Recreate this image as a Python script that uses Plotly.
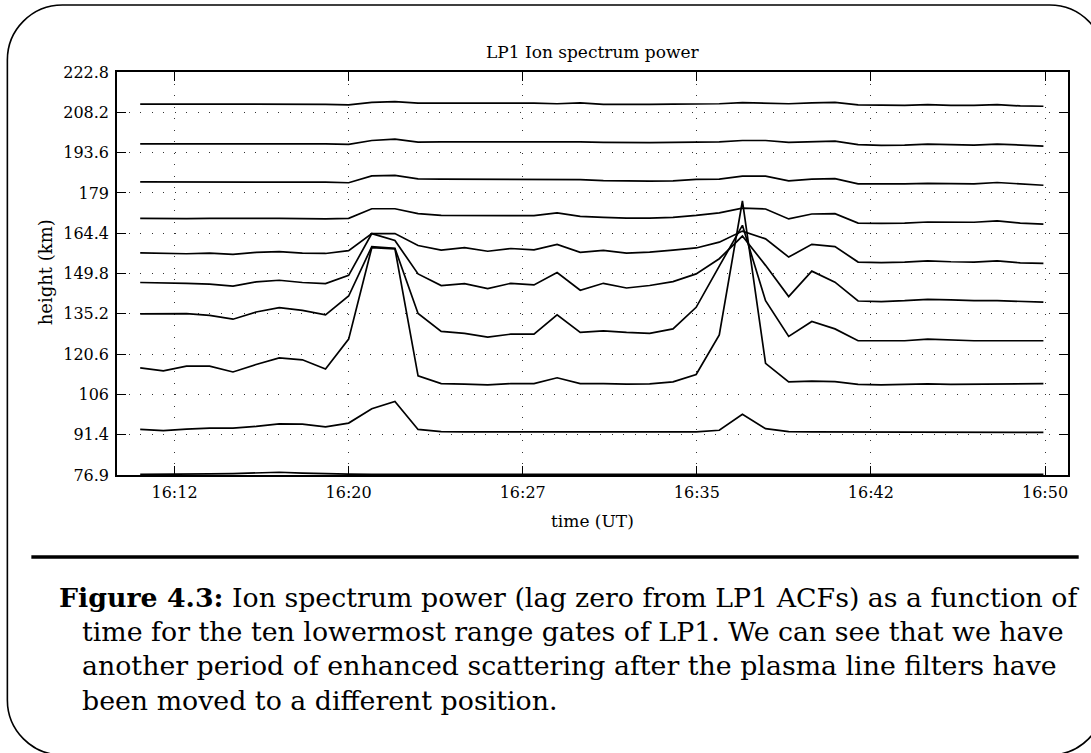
import plotly.graph_objects as go

# ---------------- data ----------------
# time of each sample, minutes after 16:00 UT
time_min = [10.50, 11.51, 12.52, 13.53, 14.55, 15.56, 16.57, 17.58, 18.59, 19.60,
            20.61, 21.62, 22.63, 23.64, 24.66, 25.67, 26.68, 27.69, 28.70, 29.71,
            30.72, 31.73, 32.74, 33.76, 34.77, 35.78, 36.79, 37.80, 38.81, 39.82,
            40.83, 41.84, 42.85, 43.87, 44.88, 45.89, 46.90, 47.91, 48.92, 49.93]

gate10 = [211.2, 211.2, 211.2, 211.2, 211.2, 211.3, 211.3, 211.2, 211.1, 210.9,
          211.8, 212.1, 211.5, 211.5, 211.5, 211.5, 211.6, 211.5, 211.3, 211.6,
          211.1, 211.0, 211.1, 211.2, 211.2, 211.3, 211.7, 211.6, 211.3, 211.6,
          211.8, 210.9, 210.7, 210.7, 211.0, 210.7, 210.7, 211.0, 210.5, 210.4]
gate9 = [196.8, 196.8, 196.8, 196.8, 196.8, 196.8, 196.9, 196.8, 196.8, 196.6,
         198.0, 198.5, 197.4, 197.5, 197.5, 197.6, 197.5, 197.5, 197.4, 197.5,
         197.3, 197.2, 197.2, 197.3, 197.5, 197.5, 198.0, 198.0, 197.3, 197.5,
         197.8, 196.5, 196.2, 196.3, 196.7, 196.5, 196.3, 196.7, 196.3, 196.0]
gate8 = [183.0, 183.0, 183.0, 182.9, 182.9, 182.9, 183.0, 182.9, 182.9, 182.7,
         185.2, 185.4, 184.1, 184.0, 184.0, 183.9, 184.0, 184.0, 184.0, 183.8,
         183.5, 183.3, 183.3, 183.4, 183.9, 184.0, 185.1, 185.1, 183.4, 184.0,
         184.2, 182.3, 182.2, 182.3, 182.5, 182.3, 182.3, 182.8, 182.2, 181.8]
gate7 = [169.8, 169.7, 169.7, 169.8, 169.7, 169.8, 169.8, 169.6, 169.6, 169.8,
         173.3, 173.3, 171.5, 170.9, 170.9, 170.9, 170.9, 170.8, 171.8, 170.5,
         170.2, 169.9, 169.9, 170.2, 170.9, 171.8, 173.5, 173.2, 169.6, 171.4,
         171.5, 168.1, 168.0, 168.1, 168.5, 168.4, 168.4, 168.9, 168.1, 167.7]
gate6 = [157.3, 157.1, 157.0, 157.2, 156.8, 157.5, 157.8, 157.2, 157.1, 158.1,
         164.3, 164.3, 160.0, 158.3, 159.2, 157.9, 158.9, 158.4, 160.4, 157.5,
         158.2, 157.2, 157.6, 158.3, 159.1, 161.2, 165.2, 162.4, 155.8, 160.4,
         159.6, 154.0, 153.8, 154.0, 154.4, 154.1, 154.0, 154.4, 153.7, 153.5]
gate5 = [146.6, 146.5, 146.3, 146.0, 145.3, 146.8, 147.4, 146.6, 146.2, 149.2,
         164.3, 161.8, 149.7, 145.5, 146.2, 144.4, 146.3, 145.7, 150.2, 143.8,
         146.3, 144.6, 145.5, 146.9, 149.7, 155.2, 163.4, 152.8, 141.5, 150.7,
         146.7, 139.9, 139.7, 140.0, 140.5, 140.3, 140.0, 140.0, 139.8, 139.5]
gate4 = [135.2, 135.2, 135.3, 134.7, 133.3, 135.9, 137.5, 136.5, 134.9, 141.7,
         159.6, 159.0, 135.4, 128.9, 128.2, 126.8, 127.9, 127.9, 134.9, 128.5,
         129.1, 128.5, 128.2, 129.8, 137.6, 152.5, 167.3, 140.0, 127.1, 132.5,
         129.8, 125.5, 125.5, 125.5, 126.1, 125.7, 125.5, 125.5, 125.5, 125.5]
gate3 = [115.7, 114.6, 116.3, 116.3, 114.2, 116.9, 119.3, 118.6, 115.3, 126.1,
         159.2, 158.8, 112.8, 110.0, 109.8, 109.5, 110.0, 110.0, 112.1, 110.0,
         110.0, 109.8, 109.9, 110.6, 113.3, 127.6, 176.1, 117.3, 110.6, 110.9,
         110.7, 109.7, 109.5, 109.7, 109.9, 109.7, 109.8, 110.0, 110.0, 110.0]
gate2 = [93.4, 93.0, 93.5, 93.9, 93.9, 94.5, 95.4, 95.3, 94.3, 95.7,
         100.9, 103.5, 93.4, 92.6, 92.5, 92.5, 92.5, 92.5, 92.5, 92.5,
         92.5, 92.5, 92.4, 92.4, 92.5, 93.1, 98.9, 93.7, 92.6, 92.5,
         92.5, 92.3, 92.3, 92.3, 92.3, 92.3, 92.3, 92.3, 92.3, 92.3]
gate1 = [77.1, 77.1, 77.2, 77.3, 77.4, 77.6, 77.9, 77.6, 77.3, 77.2,
         77.1, 77.1, 77.1, 77.1, 77.1, 77.1, 77.1, 77.1, 77.1, 77.1,
         77.1, 77.1, 77.1, 77.1, 77.2, 77.2, 77.3, 77.2, 77.1, 77.1,
         77.1, 77.2, 77.1, 77.1, 77.1, 77.1, 77.1, 77.1, 77.1, 77.1]

gates = [gate1, gate2, gate3, gate4, gate5, gate6, gate7, gate8, gate9, gate10]

x_tickvals = [12.0, 19.6, 27.2, 34.8, 42.4, 50.0]
x_ticktext = ["16:12", "16:20", "16:27", "16:35", "16:42", "16:50"]
y_tickvals = [76.9, 91.49, 106.08, 120.67, 135.26, 149.85, 164.44, 179.03, 193.62, 208.21, 222.8]
y_ticktext = ["76.9", "91.4", "106", "120.6", "135.2", "149.8", "164.4", "179", "193.6", "208.2", "222.8"]

title_text = "LP1 Ion spectrum power"
xlabel = "time (UT)"
ylabel = "height (km)"
caption_lines = [
    "<b>Figure 4.3:</b> Ion spectrum power (lag zero from LP1 ACFs) as a function of",
    "time for the ten lowermost range gates of LP1. We can see that we have",
    "another period of enhanced scattering after the plasma line filters have",
    "been moved to a different position.",
]

# ---------------- layout geometry (pixels) ----------------
W, H = 1091, 753
PL, PR, PT, PB = 116.7, 1068.3, 72.0, 475.0
FONT = "DejaVu Serif"


def px(xp):
    return (xp - PL) / (PR - PL)


def py(yp):
    return (PB - yp) / (PB - PT)


fig = go.Figure()
for g in gates:
    fig.add_trace(go.Scatter(x=time_min, y=g, mode="lines",
                             line=dict(color="black", width=1.7),
                             showlegend=False, hoverinfo="skip"))

axis_common = dict(
    showline=True, linecolor="black", linewidth=1.5, mirror="ticks",
    ticks="inside", ticklen=9, tickwidth=1.2, tickcolor="black",
    showgrid=True, gridcolor="#333333", gridwidth=1, griddash="1px,10.5px",
    zeroline=False, tickfont=dict(family=FONT, size=16, color="black"),
)

fig.update_layout(
    width=W, height=H,
    margin=dict(l=PL, r=W - PR, t=PT, b=H - PB, autoexpand=False),
    paper_bgcolor="white", plot_bgcolor="white",
    xaxis=dict(range=[9.487, 51.0035], tickmode="array", tickvals=x_tickvals,
               ticktext=x_ticktext, ticklabelstandoff=2, **axis_common),
    yaxis=dict(range=[76.9, 222.8], tickmode="array", tickvals=y_tickvals,
               ticktext=y_ticktext, ticklabelstandoff=3, **axis_common),
)

annotations = [
    dict(text=title_text, x=0.5, y=py(52), xref="paper", yref="paper",
         xanchor="center", yanchor="middle", showarrow=False,
         font=dict(family=FONT, size=17, color="black")),
    dict(text=xlabel, x=px(592.5), y=py(521), xref="paper", yref="paper",
         xanchor="center", yanchor="middle", showarrow=False,
         font=dict(family=FONT, size=17, color="black")),
    dict(text=ylabel, x=px(45), y=py(272), xref="paper", yref="paper",
         xanchor="center", yanchor="middle", showarrow=False, textangle=-90,
         font=dict(family=FONT, size=18, color="black")),
]
cap_y = [597, 631, 665, 700]
cap_x = [57, 80, 80, 80]
for t, xx, yy in zip(caption_lines, cap_x, cap_y):
    annotations.append(dict(text=t, x=px(xx), y=py(yy), xref="paper", yref="paper",
                            xanchor="left", yanchor="middle", showarrow=False,
                            font=dict(family=FONT, size=26.8, color="black")))
fig.update_layout(annotations=annotations)

# rounded border
L, T, R, B, r = 7.0, 5.0, 1105.0, 755.0, 55.0
k = 0.5523 * r
pts = [
    ("M", [(L, T + r)]),
    ("C", [(L, T + r - k), (L + r - k, T), (L + r, T)]),
    ("L", [(R - r, T)]),
    ("C", [(R - r + k, T), (R, T + r - k), (R, T + r)]),
    ("L", [(R, B - r)]),
    ("C", [(R, B - r + k), (R - r + k, B), (R - r, B)]),
    ("L", [(L + r, B)]),
    ("C", [(L + r - k, B), (L, B - r + k), (L, B - r)]),
]
path = ""
for cmd, plist in pts:
    path += cmd + " " + " ".join(f"{px(a):.5f},{py(b):.5f}" for a, b in plist) + " "
path += "Z"

fig.update_layout(shapes=[
    dict(type="path", path=path, xref="paper", yref="paper",
         line=dict(color="black", width=1.6), layer="above"),
    dict(type="line", x0=px(31), x1=px(1079), y0=py(557), y1=py(557),
         xref="paper", yref="paper", line=dict(color="black", width=3.5)),
])

fig.write_html("out.html")
